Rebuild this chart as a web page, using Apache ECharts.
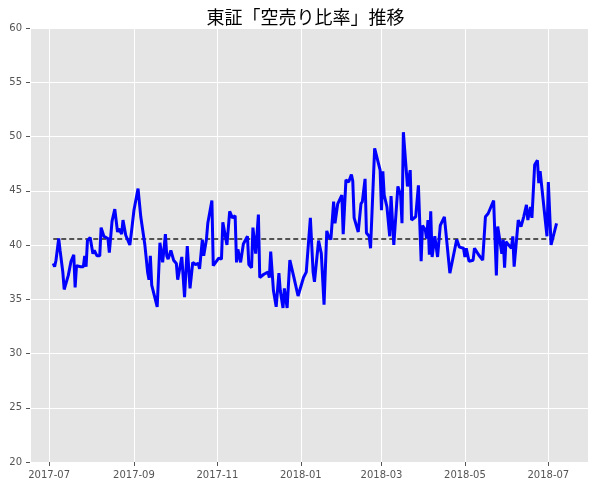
<!DOCTYPE html>
<html>
<head>
<meta charset="utf-8">
<title>空売り比率</title>
<script src="https://cdn.jsdelivr.net/npm/echarts@6/dist/echarts.min.js"></script>
<style>body{margin:0;background:#fff}</style>
</head>
<body>
<div id="main" style="width:611px;height:487px;"></div>
<script>
// 日付と空売り比率（画像から読み取った概算値）
var dates = [
 '2017-07-04','2017-07-05','2017-07-06','2017-07-08','2017-07-09','2017-07-11','2017-07-12','2017-07-15','2017-07-17','2017-07-19',
 '2017-07-20','2017-07-21','2017-07-24','2017-07-26','2017-07-27','2017-07-28','2017-07-29','2017-07-31','2017-08-02','2017-08-03',
 '2017-08-05','2017-08-07','2017-08-08','2017-08-10','2017-08-13','2017-08-14','2017-08-16','2017-08-18','2017-08-20','2017-08-21',
 '2017-08-23','2017-08-24','2017-08-26','2017-08-27','2017-08-29','2017-08-30','2017-09-01','2017-09-04','2017-09-06','2017-09-09',
 '2017-09-11','2017-09-12','2017-09-13','2017-09-14','2017-09-18','2017-09-20','2017-09-22','2017-09-24','2017-09-25','2017-09-26',
 '2017-09-28','2017-09-30','2017-10-02','2017-10-03','2017-10-06','2017-10-08','2017-10-10','2017-10-12','2017-10-14','2017-10-16',
 '2017-10-18','2017-10-19','2017-10-21','2017-10-22','2017-10-24','2017-10-25','2017-10-28','2017-10-29','2017-11-02','2017-11-04',
 '2017-11-05','2017-11-08','2017-11-10','2017-11-12','2017-11-14','2017-11-15','2017-11-16','2017-11-18','2017-11-20','2017-11-23',
 '2017-11-24','2017-11-26','2017-11-27','2017-11-29','2017-12-01','2017-12-02','2017-12-05','2017-12-08','2017-12-09','2017-12-10',
 '2017-12-12','2017-12-14','2017-12-16','2017-12-17','2017-12-19','2017-12-20','2017-12-22','2017-12-24','2017-12-27','2017-12-30',
 '2018-01-03','2018-01-05','2018-01-08','2018-01-10','2018-01-11','2018-01-14','2018-01-16','2018-01-18','2018-01-20','2018-01-21',
 '2018-01-23','2018-01-25','2018-01-26','2018-01-28','2018-01-31','2018-02-01','2018-02-03','2018-02-05','2018-02-07','2018-02-08',
 '2018-02-09','2018-02-12','2018-02-14','2018-02-15','2018-02-17','2018-02-18','2018-02-20','2018-02-21','2018-02-24','2018-02-28',
 '2018-03-01','2018-03-02','2018-03-03','2018-03-05','2018-03-07','2018-03-08','2018-03-10','2018-03-13','2018-03-15','2018-03-16',
 '2018-03-17','2018-03-20','2018-03-22','2018-03-23','2018-03-26','2018-03-28','2018-03-30','2018-03-31','2018-04-02','2018-04-03',
 '2018-04-04','2018-04-05','2018-04-06','2018-04-07','2018-04-09','2018-04-11','2018-04-13','2018-04-16','2018-04-20','2018-04-25',
 '2018-04-27','2018-04-30','2018-05-01','2018-05-02','2018-05-04','2018-05-07','2018-05-08','2018-05-11','2018-05-14','2018-05-16',
 '2018-05-18','2018-05-22','2018-05-24','2018-05-25','2018-05-28','2018-05-29','2018-05-30','2018-05-31','2018-06-02','2018-06-04',
 '2018-06-05','2018-06-06','2018-06-09','2018-06-11','2018-06-13','2018-06-15','2018-06-16','2018-06-18','2018-06-19','2018-06-21',
 '2018-06-23','2018-06-24','2018-06-25','2018-06-30','2018-07-01','2018-07-03','2018-07-07'
];
var ratio = [
 38.3,38.0,38.6,40.6,39.5,37.5,35.9,37.2,38.5,39.1,
 36.1,38.1,38.0,38.0,39.0,38.0,40.4,40.7,39.2,39.5,
 39.0,39.0,41.6,40.8,40.6,39.3,42.2,43.3,41.2,41.5,
 41.0,42.3,40.9,40.9,40.0,41.0,43.2,45.2,42.6,40.0,
 37.5,36.8,39.0,36.3,34.3,40.2,38.4,41.0,39.0,38.7,
 39.5,38.6,38.3,36.8,38.9,35.2,39.9,36.0,38.4,38.2,
 38.3,37.8,40.5,39.0,40.5,42.0,44.1,38.1,38.8,38.7,
 42.1,40.0,43.1,42.5,42.7,38.4,39.6,38.4,40.1,40.8,
 38.2,37.9,41.6,39.2,42.8,37.0,37.3,37.5,37.0,39.4,
 35.8,34.3,37.4,35.8,34.2,36.0,34.2,38.6,37.0,35.3,
 37.0,37.5,42.5,37.5,36.6,40.4,39.2,34.5,41.3,40.9,
 40.5,44.0,42.0,43.8,44.6,41.0,46.0,45.8,46.5,45.9,
 42.5,41.2,43.8,44.0,46.1,41.1,40.8,39.7,48.9,46.9,
 43.2,46.8,44.6,43.5,40.8,44.5,40.0,45.4,44.6,42.0,
 50.4,45.4,46.9,42.3,42.6,45.5,38.5,41.8,41.4,40.6,
 42.3,39.1,43.1,38.9,40.8,38.9,41.8,42.6,37.4,40.5,
 39.8,39.7,38.9,39.7,38.5,38.6,39.7,39.1,38.6,42.6,
 42.9,44.1,37.2,41.7,39.2,40.5,37.9,40.3,40.0,39.7,
 40.8,38.0,42.3,41.7,42.6,43.7,42.3,43.5,42.5,47.4,
 47.8,45.7,46.8,40.8,45.8,40.0,42.0
];
var meanValue = 40.55;

var chart = echarts.init(document.getElementById('main'));
var line = dates.map(function (d, i) { return [d, ratio[i]]; });
var meanLine = [[dates[0], meanValue], [dates[dates.length - 1], meanValue]];

chart.setOption({
  backgroundColor: '#fff',
  animation: false,
  title: {
    text: '東証「空売り比率」推移',
    left: 'center', top: 3,
    textStyle: { fontFamily: 'Noto Sans CJK JP', fontSize: 18, fontWeight: 'normal', color: '#000' }
  },
  grid: { left: 30, right: 23, top: 28, bottom: 25, show: true, backgroundColor: '#E5E5E5', borderWidth: 0 },
  xAxis: {
    type: 'time',
    min: '2017-06-17', max: '2018-07-30',
    minInterval: 59 * 86400000, maxInterval: 62 * 86400000,
    axisLine: { show: false },
    axisTick: { show: true, length: 4, lineStyle: { color: '#555' } },
    axisLabel: { formatter: '{yyyy}-{MM}', color: '#555', fontFamily: 'DejaVu Sans', fontSize: 10, hideOverlap: false },
    splitLine: { show: true, lineStyle: { color: '#fff', width: 1 } }
  },
  yAxis: {
    type: 'value', min: 20, max: 60, interval: 5,
    axisLine: { show: false },
    axisTick: { show: true, length: 4, lineStyle: { color: '#555' } },
    axisLabel: { color: '#555', fontFamily: 'DejaVu Sans', fontSize: 10 },
    splitLine: { lineStyle: { color: '#fff', width: 1 } }
  },
  series: [
    { type: 'line', data: meanLine, symbol: 'none', lineStyle: { color: '#222', width: 1.5, type: [5, 3] } },
    { type: 'line', data: line, symbol: 'none', lineStyle: { color: '#0000ff', width: 3 } }
  ]
});
</script>
</body>
</html>
